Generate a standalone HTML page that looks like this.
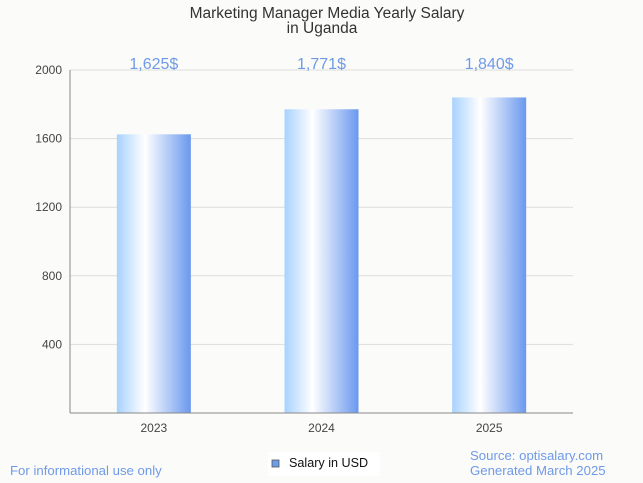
<!DOCTYPE html>
<html><head><meta charset="utf-8"><style>
body{margin:0;background:#fbfbf9;font-family:"Liberation Sans",sans-serif;}
svg{display:block}
</style></head><body>
<svg id="c" width="643" height="483">
<defs><linearGradient id="g" x1="0" x2="1" y1="0" y2="0">
<stop offset="0" stop-color="#a8d2ff"/><stop offset="0.38" stop-color="#ffffff"/><stop offset="1" stop-color="#6a98ee"/>
</linearGradient></defs>
<rect width="643" height="483" fill="#fbfbf9"/>
<text x="327" y="18" text-anchor="middle" font-size="15.5" fill="#333">Marketing Manager Media Yearly Salary</text>
<text x="322" y="33" text-anchor="middle" font-size="15.5" fill="#333">in Uganda</text>
<g id="grid"></g><g id="bars"></g>
<line x1="70" y1="70" x2="70" y2="413" stroke="#888"/>
<line x1="70" y1="413" x2="573" y2="413" stroke="#888"/>
<rect x="268" y="452" width="112" height="24" fill="#fff"/>
<rect x="272" y="460" width="7" height="7" fill="#6a9ee8" stroke="#555" stroke-width="0.8"/>
<text x="289" y="467" font-size="12.6" fill="#111">Salary in USD</text>
<text x="10" y="475" font-size="13.2" fill="#6f9ae8">For informational use only</text>
<text x="470" y="460" font-size="13.2" fill="#6f9ae8">Source: optisalary.com</text>
<text x="470" y="475" font-size="13.2" fill="#6f9ae8">Generated March 2025</text>
</svg>
<script>
const categories=["2023","2024","2025"];
const values=[1625,1771,1840];
const labels=["1,625$","1,771$","1,840$"];
const yTicks=[400,800,1200,1600,2000];
const ns="http://www.w3.org/2000/svg";
const x0=70,x1=573,yTop=70,yBot=413,yMax=2000;
const y=v=>yBot-(v/yMax)*(yBot-yTop);
const band=(x1-x0)/categories.length;
const xc=i=>x0+band*(i+0.5);
function mk(t,a,p){const e=document.createElementNS(ns,t);for(const k in a)e.setAttribute(k,a[k]);p.appendChild(e);return e;}
const grid=document.getElementById('grid'),bars=document.getElementById('bars');
yTicks.forEach(t=>{
 const l=mk('line',{x1:x0,x2:x1,y1:y(t),y2:y(t),stroke:'#ddd'},grid);
 
 
 const tx=mk('text',{x:62,y:y(t)+4,'text-anchor':'end','font-size':12,fill:'#444'},grid);
 tx.textContent=t;
 
 
});
categories.forEach((c,i)=>{
 const w=74;
 const r=mk('rect',{x:xc(i)-w/2,y:y(values[i]),width:w,height:yBot-y(values[i]),fill:'url(#g)'},bars);
 
 
 const v=mk('text',{x:xc(i),y:69,'text-anchor':'middle','font-size':16,fill:'#6f9ae8'},bars);
 v.textContent=labels[i];
 
 
 const xt=mk('text',{x:xc(i),y:432,'text-anchor':'middle','font-size':12,fill:'#444'},bars);
 xt.textContent=c;
 
 
});
</script>
</body></html>
